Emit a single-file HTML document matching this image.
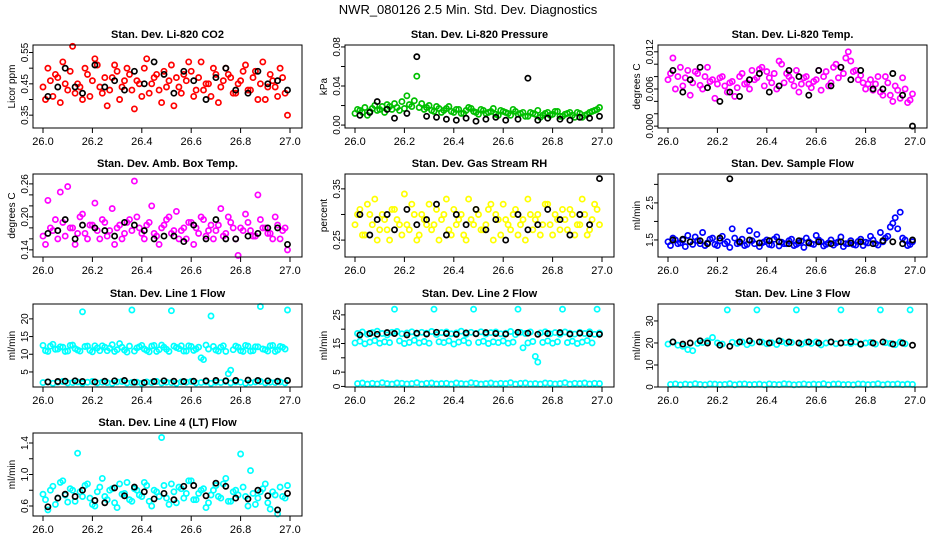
<!DOCTYPE html>
<html><head><meta charset="utf-8"><style>
html,body{margin:0;padding:0;background:#fff}
svg{display:block}
text{font-family:"Liberation Sans",sans-serif}
</style></head><body>
<svg id="chart" width="936" height="540" viewBox="0 0 936 540" xmlns="http://www.w3.org/2000/svg">
<rect width="936" height="540" fill="#fff"/>
<text x="468" y="14" text-anchor="middle" font-size="13">NWR_080126  2.5 Min. Std. Dev. Diagnostics</text>
</svg>
<script>
const xTicks=[26.0,26.2,26.4,26.6,26.8,27.0];
const xTickLabels=["26.0","26.2","26.4","26.6","26.8","27.0"];
const tA=[26.00,26.02,26.04,26.06,26.08,26.10,26.12,26.14,26.16,26.18,26.20,26.22,26.24,26.26,26.28,26.30,26.32,26.34,26.36,26.38,26.40,26.42,26.44,26.46,26.48,26.50,26.52,26.54,26.56,26.58,26.60,26.62,26.64,26.66,26.68,26.70,26.72,26.74,26.76,26.78,26.80,26.82,26.84,26.86,26.88,26.90,26.92,26.94,26.96,26.98];
const tB=[26.01,26.03,26.05,26.07,26.09,26.11,26.13,26.15,26.17,26.19,26.21,26.23,26.25,26.27,26.29,26.31,26.33,26.35,26.37,26.39,26.41,26.43,26.45,26.47,26.49,26.51,26.53,26.55,26.57,26.59,26.61,26.63,26.65,26.67,26.69,26.71,26.73,26.75,26.77,26.79,26.81,26.83,26.85,26.87,26.89,26.91,26.93,26.95,26.97,26.99];
const tK=[26.02,26.06,26.09,26.13,26.16,26.21,26.25,26.29,26.33,26.37,26.41,26.45,26.49,26.53,26.57,26.61,26.66,26.70,26.74,26.78,26.83,26.87,26.91,26.95,26.99];

const co2A=[0.44,0.50,0.41,0.47,0.52,0.43,0.57,0.45,0.40,0.48,0.46,0.51,0.42,0.38,0.47,0.49,0.44,0.50,0.43,0.46,0.41,0.53,0.45,0.48,0.39,0.44,0.51,0.47,0.42,0.46,0.49,0.43,0.52,0.45,0.41,0.48,0.44,0.50,0.47,0.42,0.46,0.51,0.43,0.49,0.45,0.40,0.48,0.44,0.50,0.42];
const co2B=[0.40,0.46,0.48,0.39,0.45,0.49,0.42,0.44,0.50,0.41,0.53,0.44,0.47,0.43,0.51,0.40,0.46,0.48,0.37,0.45,0.50,0.42,0.47,0.43,0.49,0.46,0.38,0.44,0.48,0.52,0.41,0.47,0.43,0.45,0.50,0.39,0.46,0.48,0.42,0.45,0.49,0.43,0.47,0.40,0.52,0.44,0.46,0.41,0.47,0.35];
const co2K=[0.41,0.44,0.50,0.44,0.42,0.51,0.44,0.46,0.43,0.49,0.45,0.52,0.48,0.42,0.49,0.46,0.40,0.47,0.50,0.43,0.42,0.49,0.45,0.46,0.43];

const presA=[.012,.015,.018,.014,.020,.016,.013,.019,.022,.015,.017,.021,.025,.018,.016,.020,.014,.017,.015,.019,.013,.016,.012,.018,.014,.011,.015,.013,.017,.010,.014,.012,.016,.011,.013,.009,.012,.015,.010,.013,.011,.014,.009,.012,.010,.013,.008,.011,.014,.016];
const presB=[.016,.013,.010,.017,.015,.019,.021,.016,.018,.024,.030,.019,.050,.022,.018,.015,.019,.013,.017,.014,.016,.012,.015,.017,.013,.016,.012,.014,.011,.015,.013,.010,.014,.012,.009,.013,.011,.008,.012,.010,.014,.009,.011,.013,.008,.012,.010,.013,.015,.018];
const presK=[.010,.013,.024,.016,.007,.012,.070,.009,.008,.006,.005,.007,.004,.006,.008,.005,.006,.048,.005,.007,.006,.005,.008,.007,.009];

const ltA=[.0075,.0110,.0080,.0065,.0090,.0070,.0085,.0060,.0095,.0075,.0068,.0080,.0055,.0072,.0062,.0085,.0070,.0090,.0078,.0095,.0088,.0070,.0060,.0100,.0085,.0075,.0090,.0068,.0080,.0062,.0075,.0058,.0088,.0070,.0100,.0095,.0110,.0105,.0090,.0082,.0060,.0075,.0068,.0055,.0080,.0050,.0065,.0045,.0060,.0042];
const ltB=[.0085,.0060,.0095,.0078,.0050,.0088,.0066,.0080,.0072,.0045,.0078,.0065,.0070,.0048,.0080,.0068,.0060,.0075,.0092,.0065,.0078,.0085,.0105,.0070,.0080,.0065,.0055,.0078,.0068,.0072,.0090,.0080,.0065,.0095,.0078,.0085,.0120,.0088,.0075,.0070,.0068,.0058,.0080,.0050,.0070,.0040,.0058,.0078,.0038,.0052];
const ltK=[.0090,.0055,.0075,.0095,.0062,.0040,.0055,.0048,.0075,.0085,.0055,.0065,.0090,.0080,.0050,.0090,.0065,.0095,.0075,.0090,.0060,.0060,.0085,.0050,.0000];

const btA=[.165,.230,.175,.160,.190,.255,.180,.170,.205,.160,.185,.175,.195,.165,.215,.180,.160,.190,.175,.200,.170,.185,.220,.165,.180,.195,.170,.210,.175,.160,.190,.180,.200,.165,.185,.175,.215,.170,.190,.160,.180,.205,.175,.165,.195,.180,.170,.200,.160,.180];
const btB=[.150,.180,.195,.245,.165,.180,.150,.200,.170,.185,.225,.160,.190,.175,.150,.185,.170,.195,.265,.180,.160,.190,.170,.150,.185,.200,.175,.160,.180,.190,.150,.170,.195,.175,.160,.185,.165,.200,.180,.130,.175,.190,.165,.240,.180,.170,.160,.185,.175,.140];
const btK=[.170,.175,.195,.160,.185,.180,.175,.165,.190,.185,.175,.160,.165,.165,.155,.185,.160,.195,.160,.160,.165,.170,.180,.180,.150];

const rhA=[.28,.31,.26,.30,.33,.27,.29,.25,.31,.28,.34,.27,.30,.26,.29,.32,.28,.25,.30,.27,.31,.29,.26,.33,.28,.30,.27,.31,.25,.29,.32,.28,.30,.26,.29,.33,.27,.30,.28,.32,.26,.29,.31,.27,.30,.28,.33,.26,.29,.31];
const rhB=[.30,.26,.32,.28,.25,.30,.27,.31,.29,.26,.28,.32,.25,.30,.28,.27,.31,.29,.33,.26,.28,.30,.25,.29,.31,.27,.28,.32,.30,.26,.29,.27,.31,.28,.25,.30,.29,.26,.32,.28,.30,.27,.29,.31,.26,.28,.30,.27,.32,.28];
const rhK=[.30,.26,.29,.30,.27,.31,.28,.29,.32,.26,.30,.28,.31,.27,.29,.25,.30,.27,.28,.31,.29,.26,.30,.28,.37];

const sfA=[1.45,1.55,1.40,1.50,1.62,1.38,1.48,1.70,1.42,1.55,1.35,1.60,1.45,1.80,1.40,1.52,1.38,1.48,1.65,1.42,1.50,1.36,1.58,1.44,1.40,1.52,1.38,1.47,1.55,1.40,1.62,1.45,1.38,1.50,1.42,1.58,1.40,1.48,1.36,1.52,1.44,1.60,1.40,1.70,1.55,1.85,2.10,2.25,1.50,1.38];
const sfB=[1.35,1.50,1.42,1.32,1.45,1.58,1.40,1.35,1.52,1.38,1.48,1.40,1.30,1.55,1.42,1.35,1.75,1.40,1.32,1.45,1.38,1.52,1.34,1.40,1.48,1.35,1.42,1.30,1.45,1.38,1.50,1.34,1.42,1.36,1.45,1.32,1.40,1.38,1.46,1.35,1.42,1.50,1.36,1.45,1.60,1.95,1.80,1.55,1.35,1.45];
const sfK=[1.50,1.52,1.45,1.48,1.40,1.55,3.15,1.45,1.50,1.42,1.48,1.45,1.40,1.48,1.42,1.45,1.40,1.45,1.42,1.45,1.40,1.48,1.45,1.40,1.50];

const l1A=[12.5,10.8,12.8,11.5,12.0,10.9,12.6,11.2,22.0,12.3,10.7,11.8,12.4,11.0,12.7,11.3,12.0,10.6,22.5,11.8,12.5,11.1,12.3,10.8,12.6,11.4,22.3,11.9,12.4,10.9,12.2,11.5,9.0,12.6,20.8,11.2,12.0,10.8,5.5,12.3,11.0,12.5,10.9,12.1,23.5,11.3,12.4,10.8,12.2,11.5];
const l1B=[11.0,12.3,11.4,12.1,10.8,12.5,11.6,10.9,12.2,11.1,12.4,11.0,12.0,11.7,10.8,13.0,11.2,12.3,10.9,12.1,11.5,10.7,12.5,11.3,12.0,10.8,12.3,11.6,10.9,12.4,11.1,12.0,8.5,11.5,12.2,10.9,12.4,4.5,11.3,12.0,10.8,12.3,11.0,12.1,11.5,10.9,12.5,11.2,12.0,22.5];
const l1C=[2.0,2.2,1.8,2.1,2.3,1.9,2.0,2.2,1.8,2.1,2.3,1.9,2.1,2.0,1.8,2.2,2.3,1.9,2.0,2.1,1.8,2.2,2.0,2.3,1.9,2.1,2.0,1.8,2.2,2.1,2.3,1.9,2.0,2.2,1.8,2.1,2.0,2.3,1.9,2.2,2.1,1.8,2.0,2.2,2.3,1.9,2.1,2.0,2.2,1.9];
const l1K=[2.2,2.3,2.4,2.5,2.3,2.2,2.4,2.5,2.6,2.1,2.0,2.3,2.5,2.4,2.3,2.4,2.5,2.6,2.5,2.6,2.7,2.6,2.5,2.4,2.6];

const l2A=[15.2,15.8,14.9,15.5,16.0,15.1,15.6,15.3,27.0,15.9,15.0,15.4,16.1,15.2,15.7,15.1,27.0,15.6,15.3,15.9,14.8,15.5,16.0,15.2,27.0,15.4,15.8,15.0,15.6,15.3,15.9,15.1,15.5,27.0,13.5,15.2,15.7,8.5,15.4,15.9,15.1,15.6,27.0,15.3,15.8,15.0,15.5,16.0,15.2,27.0];
const l2B=[1.0,1.2,0.8,1.1,0.9,1.3,1.0,0.8,1.2,1.1,0.9,1.0,1.3,0.8,1.1,1.2,0.9,1.0,1.1,0.8,1.2,1.0,0.9,1.3,1.1,0.8,1.0,1.2,0.9,1.1,1.0,1.3,0.8,1.1,1.2,0.9,1.0,0.8,1.2,1.1,0.9,1.0,1.3,0.8,1.1,1.0,1.2,0.9,1.1,1.0];
const l2C=[18.5,19.0,18.2,18.8,19.3,18.5,18.0,18.9,19.2,18.4,18.7,19.1,18.3,18.9,18.6,19.2,18.1,18.8,19.0,18.4,18.7,19.3,18.2,18.9,18.5,19.1,18.3,18.8,19.0,18.4,18.6,19.2,18.1,18.9,18.5,19.0,10.5,18.7,19.1,18.4,18.8,18.2,19.0,18.6,18.3,18.9,18.5,19.1,18.2,18.7];
const l2K=[18.0,18.5,18.2,18.8,18.5,18.0,18.6,18.3,18.9,18.5,18.2,18.7,18.4,18.8,18.5,18.3,18.9,18.6,18.2,18.5,18.8,18.3,18.6,18.4,18.2];

const l3A=[19.5,20.5,19.0,18.5,17.0,16.5,19.8,20.2,21.0,22.5,20.0,19.5,35.0,20.3,19.8,20.5,19.2,20.0,35.0,20.4,19.6,20.1,19.3,20.6,19.9,20.2,35.0,19.5,20.3,19.8,20.5,19.1,20.0,20.4,19.6,35.0,20.2,19.7,20.5,19.3,20.0,20.3,19.5,35.0,20.1,19.8,19.2,20.4,19.6,35.0];
const l3B=[1.2,1.4,1.0,1.3,1.1,1.5,1.2,1.0,1.4,1.3,1.1,1.2,1.5,1.0,1.3,1.4,1.1,1.2,1.3,1.0,1.4,1.2,1.1,1.5,1.3,1.0,1.2,1.4,1.1,1.3,1.2,1.5,1.0,1.3,1.4,1.1,1.2,1.0,1.4,1.3,1.1,1.2,1.5,1.0,1.3,1.2,1.4,1.1,1.3,1.2];
const l3K=[20.5,19.5,20.0,21.0,20.0,19.0,18.5,20.5,21.0,20.5,20.0,21.0,20.5,20.0,20.5,20.0,20.5,20.0,20.5,19.5,20.0,20.5,19.5,20.0,19.0];

const l4A=[0.75,0.55,0.85,0.70,0.92,0.65,0.80,1.27,0.72,0.88,0.62,0.78,0.95,0.68,0.82,0.58,0.75,0.90,0.66,0.80,0.72,0.86,0.60,0.78,1.47,0.70,0.88,0.64,0.82,0.76,0.92,0.68,0.80,0.58,0.74,0.86,0.70,0.95,0.66,0.80,1.26,0.72,1.05,0.62,0.78,0.88,0.56,0.74,0.84,0.70];
const l4B=[0.68,0.80,0.62,0.90,0.74,0.82,0.66,0.78,0.86,0.70,0.60,0.84,0.72,0.80,0.64,0.88,0.76,0.68,0.82,0.74,0.90,0.66,0.80,0.72,0.86,0.62,0.78,0.84,0.70,0.92,0.68,0.76,0.82,0.64,0.80,0.72,0.88,0.66,0.78,0.74,0.84,0.60,0.76,0.70,0.82,0.64,0.78,0.50,0.72,0.86];
const l4K=[0.59,0.70,0.75,0.72,0.80,0.67,0.64,0.83,0.73,0.84,0.78,0.69,0.76,0.68,0.85,0.86,0.73,0.89,0.85,0.70,0.69,0.80,0.73,0.55,0.76];

const panels=[
 {name:"co2",title:"Stan. Dev. Li-820 CO2",ylab:"Licor ppm",col:0,row:0,dom:[0.309,0.574],ticks:[0.35,0.40,0.45,0.50,0.55],labs:["0.35","","0.45","","0.55"],series:[[tA,co2A,"#ff0000"],[tB,co2B,"#ff0000"],[tK,co2K,"#000"]]},
 {name:"pressure",title:"Stan. Dev. Li-820 Pressure",ylab:"kPa",col:1,row:0,dom:[-0.003,0.082],ticks:[0,0.02,0.04,0.06,0.08],labs:["0.00","","0.04","","0.08"],series:[[tA,presA,"#00c000"],[tB,presB,"#00c000"],[tK,presK,"#000"]]},
 {name:"li820-temp",title:"Stan. Dev. Li-820 Temp.",ylab:"degrees C",col:2,row:0,dom:[-0.0003,0.0131],ticks:[0,0.002,0.004,0.006,0.008,0.010,0.012],labs:["0.000","","","0.006","","","0.012"],series:[[tA,ltA,"#ff00ff"],[tB,ltB,"#ff00ff"],[tK,ltK,"#000"]]},
 {name:"box-temp",title:"Stan. Dev. Amb. Box Temp.",ylab:"degrees C",col:0,row:1,dom:[0.127,0.278],ticks:[0.14,0.16,0.18,0.20,0.22,0.24,0.26],labs:["0.14","","","0.20","","","0.26"],series:[[tA,btA,"#ff00ff"],[tB,btB,"#ff00ff"],[tK,btK,"#000"]]},
 {name:"gas-rh",title:"Stan. Dev. Gas Stream RH",ylab:"percent",col:1,row:1,dom:[0.217,0.379],ticks:[0.25,0.30,0.35],labs:["0.25","","0.35"],series:[[tA,rhA,"#ffff00"],[tB,rhB,"#ffff00"],[tK,rhK,"#000"]]},
 {name:"sample-flow",title:"Stan. Dev. Sample Flow",ylab:"ml/min",col:2,row:1,dom:[1.04,3.28],ticks:[1.5,2.0,2.5,3.0],labs:["1.5","","2.5",""],series:[[tA,sfA,"#0000ff"],[tB,sfB,"#0000ff"],[tK,sfK,"#000"]]},
 {name:"line1-flow",title:"Stan. Dev. Line 1 Flow",ylab:"ml/min",col:0,row:2,dom:[0.75,24.2],ticks:[5,10,15,20],labs:["5","10","15","20"],series:[[tA,l1A,"#00ffff"],[tB,l1B,"#00ffff"],[tA,l1C,"#00ffff"],[tK,l1K,"#000"]]},
 {name:"line2-flow",title:"Stan. Dev. Line 2 Flow",ylab:"ml/min",col:1,row:2,dom:[-0.2,28.8],ticks:[0,5,10,15,20,25],labs:["0","5","","15","","25"],series:[[tA,l2A,"#00ffff"],[tB,l2B,"#00ffff"],[tB,l2C,"#00ffff"],[tK,l2K,"#000"]]},
 {name:"line3-flow",title:"Stan. Dev. Line 3 Flow",ylab:"ml/min",col:2,row:2,dom:[0,37.7],ticks:[0,10,20,30],labs:["0","10","20","30"],series:[[tA,l3A,"#00ffff"],[tB,l3B,"#00ffff"],[tK,l3K,"#000"]]},
 {name:"line4-flow",title:"Stan. Dev. Line 4 (LT) Flow",ylab:"ml/min",col:0,row:3,dom:[0.473,1.527],ticks:[0.6,0.8,1.0,1.2,1.4],labs:["0.6","","1.0","","1.4"],series:[[tA,l4A,"#00ffff"],[tB,l4B,"#00ffff"],[tK,l4K,"#000"]]}
];

const NS="http://www.w3.org/2000/svg";
const svg=document.getElementById('chart');
const colX0=[43,355,668];
const rowTop=[45,174,304,433];
const BOXH=83, XSPAN=247;
function mk(tag,attrs,parent){const e=document.createElementNS(NS,tag);for(const k in attrs)e.setAttribute(k,attrs[k]);parent.appendChild(e);return e;}

panels.forEach(p=>{
  const g=mk('g',{},svg);
  
  
  const x0=colX0[p.col], top=rowTop[p.row], bot=top+BOXH;
  const bl=x0-10, br=x0+XSPAN+12;
  const xs=v=>x0+(v-26)*XSPAN;
  const ys=v=>bot-(v-p.dom[0])/(p.dom[1]-p.dom[0])*BOXH;
  const t=mk('text',{x:(bl+br)/2,y:top-7,'text-anchor':'middle','font-size':'11','font-weight':'bold'},g);
  t.textContent=p.title;
  
  
  p.series.forEach((s,si)=>{
    const sg=mk('g',{fill:'none',stroke:s[2],'stroke-width':'1.7'},g);
    
    
    s[1].forEach((v,i)=>{
      const c=mk('circle',{cx:xs(s[0][i]).toFixed(1),cy:ys(v).toFixed(1),r:'2.6'},sg);
      
      
    });
  });
  const box=mk('rect',{x:bl,y:top,width:br-bl,height:BOXH,fill:'none',stroke:'#000','stroke-width':'1'},g);
  
  
  const xa=mk('g',{},g);
  
  
  xTicks.forEach((v,i)=>{
    mk('line',{x1:xs(v),x2:xs(v),y1:bot,y2:bot+5,stroke:'#000'},xa);
    const tl=mk('text',{x:xs(v),y:bot+17,'text-anchor':'middle','font-size':'11'},xa);
    tl.textContent=xTickLabels[i];
    
    
  });
  const ya=mk('g',{},g);
  
  
  const ax=bl;
  p.ticks.forEach((v,i)=>{
    const y=ys(v);
    mk('line',{x1:ax-4,x2:ax,y1:y,y2:y,stroke:'#000'},ya);
    if(p.labs[i]){
      const tl=mk('text',{x:0,y:0,'text-anchor':'middle','font-size':'10',transform:`translate(${ax-5},${y}) rotate(-90)`},ya);
      tl.textContent=p.labs[i];
      
      
    }
  });
  const yt=mk('text',{x:0,y:0,'text-anchor':'middle','font-size':'10',transform:`translate(${bl-18},${(top+bot)/2}) rotate(-90)`},g);
  yt.textContent=p.ylab;
  
  
});
</script>
</body></html>
